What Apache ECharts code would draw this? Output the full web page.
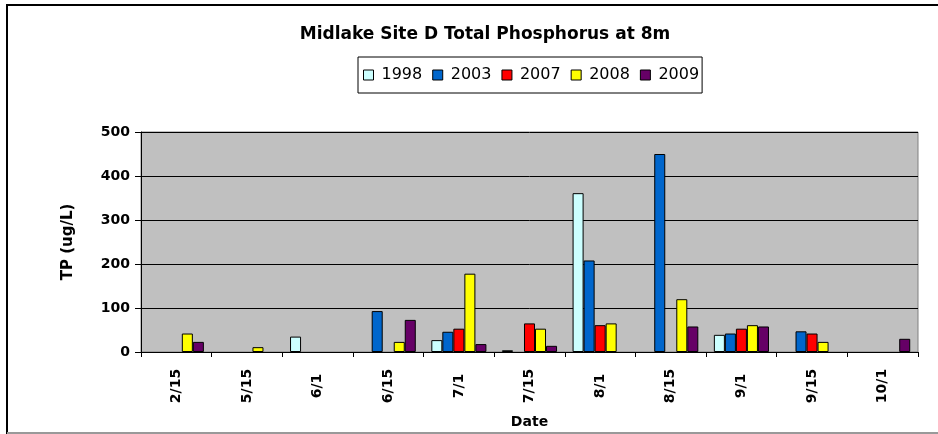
<!DOCTYPE html>
<html>
<head>
<meta charset="utf-8">
<script src="https://cdn.jsdelivr.net/npm/echarts@6/dist/echarts.min.js"></script>
<style>
html,body{margin:0;padding:0;background:#fff;}
#chart{width:938px;height:434px;}
</style>
</head>
<body>
<div id="chart"></div>
<script>
const categories = ['2/15','5/15','6/1','6/15','7/1','7/15','8/1','8/15','9/1','9/15','10/1'];
const yTicks = [0,100,200,300,400,500];
const s1998 = [null, null, 35, null, 27, 4, 361, null, 39, null, null];
const s2003 = [null, null, null, 93, 46, null, 208, 450, 42, 47, null];
const s2007 = [null, null, null, null, 53, 65, 61, null, 53, 42, null];
const s2008 = [42, 11, null, 23, 178, 53, 65, 120, 61, 23, null];
const s2009 = [23, null, null, 73, 18, 14, null, 58, 58, null, 30];
const seriesNames = ['1998','2003','2007','2008','2009'];
const seriesColors = ['#CCFFFF','#0066CC','#FF0000','#FFFF00','#660066'];
const seriesData = [s1998, s2003, s2007, s2008, s2009];

const FONT = 'DejaVu Sans';
const chart = echarts.init(document.getElementById('chart'));
const option = {
  animation: false,
  backgroundColor: '#ffffff',
  title: {
    text: 'Midlake Site D Total Phosphorus at 8m',
    left: 480, top: 21, textAlign: 'center',
    textStyle: {fontFamily: FONT, fontWeight: 'bold', fontSize: 17, color: '#000'}
  },
  legend: {
    data: seriesNames,
    left: 358, top: 57,
    padding: [10, 3, 10, 5],
    orient: 'horizontal',
    borderColor: '#000', borderWidth: 1,
    itemWidth: 10, itemHeight: 10, itemGap: 10,
    icon: 'rect',
    itemStyle: {borderColor: '#000', borderWidth: 1},
    textStyle: {fontFamily: FONT, fontSize: 16, color: '#000', padding: [0,0,0,3]}
  },
  grid: {left: 141, right: 20, top: 132, bottom: 82, show: true, backgroundColor: '#C0C0C0', borderColor: '#808080', borderWidth: 1},
  xAxis: {
    type: 'category',
    data: categories,
    name: 'Date',
    nameLocation: 'middle',
    nameGap: 63,
    nameTextStyle: {fontFamily: FONT, fontWeight: 'bold', fontSize: 14, color: '#000'},
    axisLine: {show: true, lineStyle: {color: '#000', width: 1}},
    axisTick: {show: true, length: 5, lineStyle: {color: '#000'}},
    axisLabel: {rotate: 90, align: 'center', verticalAlign: 'middle', margin: 34, fontFamily: FONT, fontWeight: 'bold', fontSize: 14, color: '#000'}
  },
  yAxis: {
    type: 'value',
    min: yTicks[0], max: yTicks[yTicks.length-1], interval: 100,
    name: 'TP (ug/L)',
    nameLocation: 'middle',
    nameGap: 65,
    nameTextStyle: {fontFamily: FONT, fontWeight: 'bold', fontSize: 15, color: '#000'},
    axisLine: {show: true, lineStyle: {color: '#000', width: 1}},
    axisTick: {show: true, length: 6, lineStyle: {color: '#000'}},
    axisLabel: {margin: 11, fontFamily: FONT, fontWeight: 'bold', fontSize: 14, color: '#000'},
    splitLine: {show: true, lineStyle: {color: '#000', width: 1}}
  },
  series: seriesNames.map((n, i) => ({
    name: n,
    type: 'bar',
    data: seriesData[i],
    barGap: '0%',
    barCategoryGap: '22%',
    itemStyle: {color: seriesColors[i], borderColor: '#000', borderWidth: 1}
  })),
  graphic: [
    {type: 'line', shape: {x1: 7, y1: 5, x2: 938, y2: 5}, style: {stroke: '#000', lineWidth: 2}},
    {type: 'line', shape: {x1: 7, y1: 4, x2: 7, y2: 434}, style: {stroke: '#000', lineWidth: 2}},
    {type: 'line', shape: {x1: 7, y1: 433, x2: 938, y2: 433}, style: {stroke: '#999', lineWidth: 2}}
  ]
};
chart.setOption(option);
</script>
</body>
</html>
